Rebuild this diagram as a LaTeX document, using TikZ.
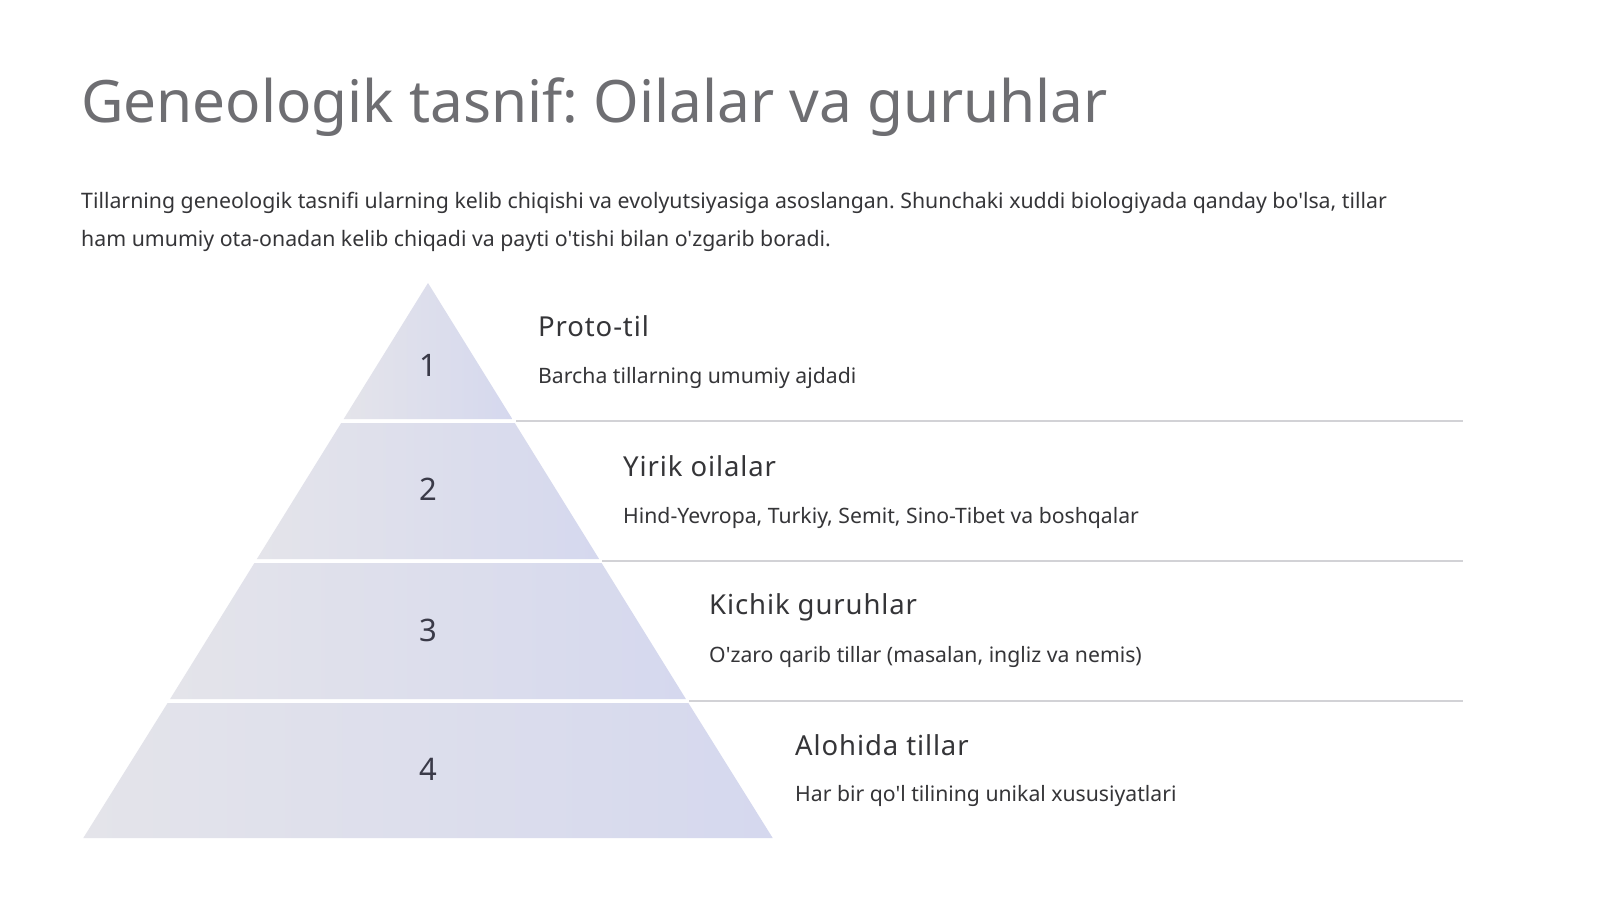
\documentclass[tikz,border=0pt]{standalone}
\usepackage{fontspec}
\setmainfont{Noto Sans}[Ligatures=TeXOff]
\newfontfamily\headfont{Noto Sans}[LetterSpace=3.2,Ligatures=TeXOff]
\usetikzlibrary{positioning}
\definecolor{titlegray}{HTML}{6E6E72}
\definecolor{bodytext}{HTML}{353538}
\definecolor{segleft}{HTML}{E4E4EA}
\definecolor{segright}{HTML}{D5D8EE}
\definecolor{sepline}{HTML}{D2D2D6}
\definecolor{numtext}{HTML}{3A3A48}
\tikzset{
  segshape/.style={left color=segleft, right color=segright, draw=none},
  segnum/.style={font=\fontsize{31bp}{36bp}\selectfont, text=numtext, inner sep=0pt},
  lvlhead/.style={font=\headfont\fontsize{27.5bp}{32bp}\selectfont, text=bodytext, anchor=west, inner sep=0pt},
  lvlsub/.style={font=\fontsize{21.2bp}{26bp}\selectfont, text=bodytext, anchor=west, inner sep=0pt},
  sep/.style={draw=sepline, line width=1.5bp},
}
\begin{document}
\frenchspacing
\begin{tikzpicture}[x=1bp,y=-1bp]
\useasboundingbox (0,0) rectangle (1600,902);
\fill[white] (0,0) rectangle (1600,902);
% title
\node[anchor=west, inner sep=0pt, text=titlegray, font=\fontsize{58.5bp}{66bp}\selectfont] (title) at (81,107) {Geneologik tasnif: Oilalar va guruhlar};
\node[anchor=north west, inner sep=0pt, text=bodytext, align=left, font=\fontsize{21.3bp}{38bp}\selectfont] (intro) at (81,192) {Tillarning geneologik tasnifi ularning kelib chiqishi va evolyutsiyasiga asoslangan. Shunchaki xuddi biologiyada qanday bo'lsa, tillar\\ham umumiy ota-onadan kelib chiqadi va payti o'tishi bilan o'zgarib boradi.};
% pyramid segments (apex 428,283; slope 0.62)
\shade[segshape] (428,283) -- (512.3,419) -- (343.7,419) -- cycle;
\shade[segshape] (514.8,423) -- (599.1,559) -- (256.9,559) -- (341.2,423) -- cycle;
\shade[segshape] (601.6,563) -- (685.9,699) -- (170.1,699) -- (254.4,563) -- cycle;
\shade[segshape] (688.4,703) -- (772.7,838) -- (83.3,838) -- (167.6,703) -- cycle;
\node[segnum] (n1) at (428,365) {1};
\node[segnum] (n2) at (428,489) {2};
\node[segnum] (n3) at (428,630) {3};
\node[segnum] (n4) at (428,769) {4};
% separators
\coordinate (s1a) at (516,421); \coordinate (s1b) at (1463,421);
\coordinate (s2a) at (602,561); \coordinate (s2b) at (1463,561);
\coordinate (s3a) at (689,701); \coordinate (s3b) at (1463,701);
\draw[sep] (s1a) -- (s1b);
\draw[sep] (s2a) -- (s2b);
\draw[sep] (s3a) -- (s3b);
% labels
\node[lvlhead] (h1) at (538,326) {Proto-til};
\node[lvlsub] (d1) at (538,378) {Barcha tillarning umumiy ajdadi};
\node[lvlhead] (h2) at (623,466) {Yirik oilalar};
\node[lvlsub] (d2) at (623,518) {Hind-Yevropa, Turkiy, Semit, Sino-Tibet va boshqalar};
\node[lvlhead] (h3) at (709,607) {Kichik guruhlar};
\node[lvlsub] (d3) at (709,657) {O'zaro qarib tillar (masalan, ingliz va nemis)};
\node[lvlhead] (h4) at (795,745) {Alohida tillar};
\node[lvlsub] (d4) at (795,796) {Har bir qo'l tilining unikal xususiyatlari};
\end{tikzpicture}
\end{document}
